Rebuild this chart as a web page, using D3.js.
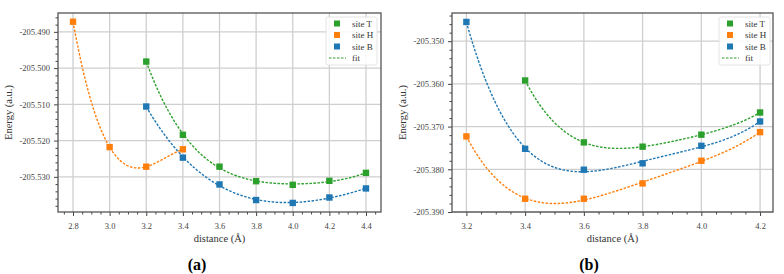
<!DOCTYPE html>
<html><head><meta charset="utf-8">
<script src="https://cdn.jsdelivr.net/npm/d3@7"></script>
<style>
body{margin:0;background:#fff;}
svg text{font-family:"Liberation Serif","DejaVu Serif",serif !important;fill:#333;}
</style></head>
<body><svg id="c" width="784" height="274"></svg>
<script>
// ---- Panel (a) data ----
const aDistT = [3.2, 3.4, 3.6, 3.8, 4.0, 4.2, 4.4];
const aEnergyT = [-205.4982, -205.5184, -205.5272, -205.5312, -205.5322, -205.5311, -205.5289];
const aDistH = [2.8, 3.0, 3.2, 3.4];
const aEnergyH = [-205.4872, -205.5218, -205.5272, -205.5224];
const aDistB = [3.2, 3.4, 3.6, 3.8, 4.0, 4.2, 4.4];
const aEnergyB = [-205.5106, -205.5247, -205.5321, -205.5364, -205.5372, -205.5357, -205.5332];
const aXTicks = [2.8, 3.0, 3.2, 3.4, 3.6, 3.8, 4.0, 4.2, 4.4];
const aYTicks = [-205.490, -205.500, -205.510, -205.520, -205.530];

// ---- Panel (b) data ----
const bDistT = [3.4, 3.6, 3.8, 4.0, 4.2];
const bEnergyT = [-205.3592, -205.3737, -205.3747, -205.3719, -205.3667];
const bDistH = [3.2, 3.4, 3.6, 3.8, 4.0, 4.2];
const bEnergyH = [-205.3723, -205.3869, -205.3869, -205.3833, -205.3780, -205.3713];
const bDistB = [3.2, 3.4, 3.6, 3.8, 4.0, 4.2];
const bEnergyB = [-205.3455, -205.3752, -205.3801, -205.3786, -205.3745, -205.3688];
const bXTicks = [3.2, 3.4, 3.6, 3.8, 4.0, 4.2];
const bYTicks = [-205.350, -205.360, -205.370, -205.380, -205.390];

const seriesNames = ["site T", "site H", "site B"];
const colors = {"site T": "#2ca02c", "site H": "#ff7f0e", "site B": "#1f77b4"};
const SERIF = '"Liberation Serif","DejaVu Serif",serif';

// least-squares polynomial fit
function polyfit(xs, ys, deg) {
  const mx = d3.mean(xs), my = d3.mean(ys);
  const X = xs.map(x => x - mx), Y = ys.map(y => (y - my) * 100);
  const n = deg + 1;
  const A = Array.from({length: n}, () => new Array(n + 1).fill(0));
  for (let k = 0; k < X.length; k++) {
    for (let i = 0; i < n; i++) {
      for (let j = 0; j < n; j++) A[i][j] += Math.pow(X[k], i + j);
      A[i][n] += Math.pow(X[k], i) * Y[k];
    }
  }
  for (let i = 0; i < n; i++) {
    let p = i;
    for (let r = i + 1; r < n; r++) if (Math.abs(A[r][i]) > Math.abs(A[p][i])) p = r;
    [A[i], A[p]] = [A[p], A[i]];
    for (let r = 0; r < n; r++) {
      if (r === i) continue;
      const f = A[r][i] / A[i][i];
      for (let c = i; c <= n; c++) A[r][c] -= f * A[i][c];
    }
  }
  const coef = A.map((row, i) => row[n] / row[i]);
  return x => { const t = x - mx; let s = 0; for (let i = n - 1; i >= 0; i--) s = s * t + coef[i]; return s / 100 + my; };
}

const svg = d3.select("#c");

function panel(cfg) {
  const {left, right, top, bottom, xDom, yDom, xTicks, yTicks, xMinorStep, yMinorStep, series, legendX, label, labelX, yLabelX} = cfg;
  const x = d3.scaleLinear().domain(xDom).range([left, right]);
  const y = d3.scaleLinear().domain(yDom).range([bottom, top]);
  const g = svg.append("g");

  // grid
  g.append("g").selectAll("line").data(xTicks).join("line")
    .attr("x1", d => x(d)).attr("x2", d => x(d)).attr("y1", top).attr("y2", bottom)
    .attr("stroke", "#cfcfcf").attr("stroke-width", 1.3);
  g.append("g").selectAll("line").data(yTicks).join("line")
    .attr("y1", d => y(d)).attr("y2", d => y(d)).attr("x1", left).attr("x2", right)
    .attr("stroke", "#cfcfcf").attr("stroke-width", 1.3);

  // minor ticks
  const xMinor = d3.range(Math.ceil(xDom[0] / xMinorStep - 1e-6) * xMinorStep, xDom[1] + 1e-9, xMinorStep)
    .filter(v => !xTicks.some(t => Math.abs(t - v) < 1e-6));
  const yMinor = d3.range(Math.ceil(yDom[0] / yMinorStep - 1e-6) * yMinorStep, yDom[1] + 1e-9, yMinorStep)
    .filter(v => !yTicks.some(t => Math.abs(t - v) < 1e-6));

  const xAxis = d3.axisBottom(x).tickValues(xTicks).tickFormat(d3.format(".1f")).tickSize(4).tickPadding(7);
  const xAxisMinor = d3.axisBottom(x).tickValues(xMinor).tickFormat("").tickSize(2.5);
  const yAxis = d3.axisLeft(y).tickValues(yTicks).tickFormat(d => d3.format(".3f")(d).replace("−", "-")).tickSize(4).tickPadding(4);
  const yAxisMinor = d3.axisLeft(y).tickValues(yMinor).tickFormat("").tickSize(2.5);

  const styleAxis = sel => {
    sel.attr("font-family", null);
    sel.select(".domain").remove();
    sel.selectAll("line").attr("stroke", "#444").attr("stroke-width", 1);
    sel.selectAll("text").style("font-family", SERIF).attr("font-size", 8.5).style("fill", "#444");
  };
  g.append("g").attr("transform", `translate(0,${bottom})`).call(xAxis).call(styleAxis);
  g.append("g").attr("transform", `translate(0,${bottom})`).call(xAxisMinor).call(styleAxis);
  g.append("g").attr("transform", `translate(${left},0)`).call(yAxis).call(styleAxis);
  g.append("g").attr("transform", `translate(${left},0)`).call(yAxisMinor).call(styleAxis);

  // frame
  g.append("rect").attr("x", left).attr("y", top).attr("width", right - left).attr("height", bottom - top)
    .attr("fill", "none").attr("stroke", "#555").attr("stroke-width", 1.3);

  // fits and points
  const line = d3.line().x(d => x(d[0])).y(d => y(d[1]));
  series.forEach(s => {
    const deg = Math.min(s.xs.length - 1, 4);
    const f = polyfit(s.xs, s.ys, deg);
    const x0 = d3.min(s.xs), x1 = d3.max(s.xs);
    const pts = d3.range(0, 101).map(i => { const xv = x0 + (x1 - x0) * i / 100; return [xv, f(xv)]; });
    g.append("path").attr("d", line(pts)).attr("fill", "none")
      .attr("stroke", colors[s.name]).attr("stroke-width", 1.4).attr("stroke-dasharray", "2.5,1.5");
  });
  series.forEach(s => {
    g.append("g").selectAll("rect").data(s.xs.map((v, i) => [v, s.ys[i]])).join("rect")
      .attr("x", d => x(d[0]) - 3.2).attr("y", d => y(d[1]) - 3.2)
      .attr("width", 6.4).attr("height", 6.4).attr("fill", colors[s.name]);
  });

  // legend
  const lg = g.append("g");
  lg.append("rect").attr("x", legendX).attr("y", top + 4).attr("width", 51).attr("height", 48)
    .attr("rx", 2).attr("fill", "#fff").attr("fill-opacity", 0.85).attr("stroke", "#ddd").attr("stroke-width", 0.8);
  seriesNames.forEach((n, i) => {
    const cy = top + 10.5 + i * 11.5;
    lg.append("rect").attr("x", legendX + 8).attr("y", cy - 3).attr("width", 6).attr("height", 6).attr("fill", colors[n]);
    lg.append("text").attr("x", legendX + 26).attr("y", cy + 3).attr("font-size", 9).style("font-family", SERIF).text(n);
  });
  const fy = top + 10.5 + 3 * 11.5;
  lg.append("line").attr("x1", legendX + 3).attr("x2", legendX + 20).attr("y1", fy).attr("y2", fy)
    .attr("stroke", colors["site T"]).attr("stroke-width", 1.2).attr("stroke-dasharray", "2.5,1.5");
  lg.append("text").attr("x", legendX + 26).attr("y", fy + 3).attr("font-size", 9).style("font-family", SERIF).text("fit");

  // axis labels
  svg.append("text").attr("x", (left + right) / 2).attr("y", 242).attr("text-anchor", "middle")
    .attr("font-size", 10.5).style("font-family", SERIF).text("distance (Å)");
  svg.append("text").attr("transform", `translate(${yLabelX},${(top + bottom) / 2}) rotate(-90)`)
    .attr("text-anchor", "middle").attr("font-size", 10.5).style("font-family", SERIF).text("Energy (a.u.)");
  svg.append("text").attr("x", labelX).attr("y", 270).attr("text-anchor", "middle")
    .attr("font-size", 16).attr("font-weight", "bold").style("font-family", SERIF).style("fill", "#000").text(label);
}

panel({
  left: 58, right: 381, top: 13, bottom: 212,
  xDom: [2.718, 4.482], yDom: [-205.5397, -205.4848],
  xTicks: aXTicks, yTicks: aYTicks, xMinorStep: 0.05, yMinorStep: 0.002,
  series: [
    {name: "site T", xs: aDistT, ys: aEnergyT},
    {name: "site H", xs: aDistH, ys: aEnergyH},
    {name: "site B", xs: aDistB, ys: aEnergyB}
  ],
  legendX: 326, label: "(a)", labelX: 197, yLabelX: 12
});

panel({
  left: 452, right: 773, top: 13, bottom: 212,
  xDom: [3.151, 4.244], yDom: [-205.390, -205.3434],
  xTicks: bXTicks, yTicks: bYTicks, xMinorStep: 0.05, yMinorStep: 0.002,
  series: [
    {name: "site T", xs: bDistT, ys: bEnergyT},
    {name: "site H", xs: bDistH, ys: bEnergyH},
    {name: "site B", xs: bDistB, ys: bEnergyB}
  ],
  legendX: 719, label: "(b)", labelX: 589, yLabelX: 406
});
</script></body></html>
